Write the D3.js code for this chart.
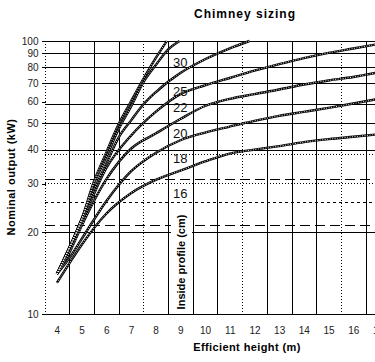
<!DOCTYPE html>
<html>
<head>
<meta charset="utf-8">
<script src="https://cdn.jsdelivr.net/npm/d3@7"></script>
<style>
  body { margin: 0; background: #fff; }
  svg { display: block; font-family: "Liberation Sans", Arial, sans-serif; }
</style>
</head>
<body>
<svg width="375" height="362"></svg>
<script>
// axis ticks
const heightTicks = [4, 5, 6, 7, 8, 9, 10, 11, 12, 13, 14, 15, 16, 17];
const kwTicks = [10, 20, 30, 40, 50, 60, 70, 80, 90, 100];

// grid lines
const solidKw = [100, 90, 80, 70, 59, 50, 40, 20, 10];
const dottedKw = [38.5, 30.1];
const dashedKw = [31.2, 21.2];
const shortDashKw = [25.8];
const solidH = [4.5, 5.5, 6.5, 8.5, 9.5, 10.5, 12.5, 13.5, 14.5, 16.5, 17.5];
const dottedH = [3.5, 7.5, 11.5, 15.5];

// curves: [efficient height (m), nominal output (kW)]
const lineA = [[4, 14], [4.5, 17.5], [5, 22.2], [5.5, 30.5], [6, 39], [6.5, 49.5], [7, 60], [7.5, 72.5], [8, 86.5], [8.45, 100]];
const lineB = [[4, 14], [4.5, 17.5], [5, 22], [5.5, 30], [6, 37.5], [6.5, 47.5], [7, 57.5], [7.5, 70.5], [8, 81.5], [8.5, 93], [8.97, 100]];
const line30 = [[4, 14], [4.5, 17.3], [5, 22.3], [5.5, 28.5], [6, 35.5], [6.5, 44.3], [7, 51.1], [7.5, 58.5], [8, 64.9], [9, 76.3], [10, 85.7], [11, 94], [11.8, 100]];
const line25 = [[4, 14], [5, 21.6], [6, 34.2], [7, 45], [8, 55], [9, 63.9], [10, 68.8], [11, 73.2], [12, 77.9], [13, 82.3], [14, 86.6], [15, 90.5], [16, 93.9], [17, 97.4]];
const line22 = [[4, 14], [4.5, 16.7], [5, 21], [6, 31.1], [7, 40.3], [8, 45.8], [9, 51.8], [10, 57.8], [11, 61.4], [12, 63.9], [13, 66.4], [14, 69.3], [15, 71.7], [16, 73.8], [17, 76.7]];
const line20 = [[4, 14], [4.5, 16], [5, 18.8], [6, 25.9], [7, 33.3], [8, 38.9], [9, 43.3], [10, 46.2], [11, 48.6], [12, 51], [13, 53.2], [14, 55], [15, 56.9], [16, 59], [17, 61.3]];
const line18 = [[4, 13], [4.5, 15.3], [5, 17.9], [6, 23.3], [7, 27.7], [8, 31], [9, 33.5], [10, 36.2], [11, 38.7], [12, 40], [13, 41.2], [14, 42.6], [15, 43.7], [16, 44.6], [17, 45.5]];

// profile labels placed at 9 m
const profileLabels = ["30", "25", "22", "20", "18", "16"];
const profileLabelKw = [83.8, 65.6, 57.3, 46.0, 37.3, 27.7];

const svg = d3.select("svg");

const x = d3.scaleLinear().domain([3.5, 17.5]).range([44.5, 390.3]);
const y = d3.scaleLog().domain([10, 100]).range([314, 41]);
const px = v => Math.round(v) + 0.5;

const grid = svg.append("g").attr("shape-rendering", "crispEdges").attr("stroke", "#000");

// horizontal lines
function hLines(vals, dash) {
  grid.selectAll(null).data(vals).enter().append("line")
    .attr("x1", x(3.5)).attr("x2", x(17.5))
    .attr("y1", d => px(y(d))).attr("y2", d => px(y(d)))
    .attr("stroke-dasharray", dash);
}
hLines(solidKw, null);
hLines(dottedKw, "1,2");
hLines(dashedKw, "10,5");
hLines(shortDashKw, "3,3");

// vertical lines
function vLines(vals, dash) {
  grid.selectAll(null).data(vals).enter().append("line")
    .attr("x1", d => px(x(d))).attr("x2", d => px(x(d)))
    .attr("y1", y(100)).attr("y2", y(10))
    .attr("stroke-dasharray", dash);
}
vLines(solidH, null);
vLines(dottedH, "1,2");

// y axis ticks and labels
const yAxis = svg.append("g")
  .attr("transform", "translate(" + px(x(3.5)) + ",0)")
  .call(d3.axisLeft(y).tickValues(kwTicks).tickFormat(d3.format("d")).tickSize(4).tickPadding(3));
yAxis.select(".domain").remove();
yAxis.selectAll("text").attr("font-size", 10).attr("fill", "#222").attr("font-family", "Liberation Sans, Arial, sans-serif");
yAxis.selectAll("line").attr("shape-rendering", "crispEdges");

// x labels
const xAxis = svg.append("g")
  .attr("transform", "translate(0," + 314 + ")")
  .call(d3.axisBottom(x).tickValues(heightTicks).tickFormat(d3.format("d")).tickSize(0).tickPadding(13));
xAxis.select(".domain").remove();
xAxis.selectAll("text").attr("font-size", 10).attr("fill", "#222").attr("font-family", "Liberation Sans, Arial, sans-serif");

// curves: dark chain with light dots inside
const line = d3.line().x(d => x(d[0])).y(d => y(d[1])).curve(d3.curveMonotoneX);
const curves = [lineA, lineB, line30, line25, line22, line20, line18];
const cg = svg.append("g").attr("fill", "none");
cg.selectAll(".outer").data(curves).enter().append("path")
  .attr("d", line).attr("stroke", "#000").attr("stroke-width", 2.4);
cg.selectAll(".inner").data(curves).enter().append("path")
  .attr("d", line).attr("stroke", "#fff").attr("stroke-width", 0.9).attr("stroke-dasharray", "1,1.5");

// profile numbers
svg.append("g").selectAll("text").data(profileLabels).enter().append("text")
  .attr("x", x(9)).attr("y", (d, i) => y(profileLabelKw[i]) + 5)
  .attr("text-anchor", "middle").attr("font-size", 13).attr("fill", "#111")
  .text(d => d);

// inside profile label
svg.append("rect").attr("x", 171).attr("y", 205).attr("width", 21).attr("height", 108).attr("fill", "#fff");
svg.append("text")
  .attr("transform", "translate(" + 185 + "," + 262 + ") rotate(-90)")
  .attr("text-anchor", "middle").attr("font-size", 11).attr("font-weight", "bold")
  .text("Inside profile (cm)");

// titles
svg.append("text").attr("x", 245).attr("y", 18).attr("text-anchor", "middle")
  .attr("font-size", 12).attr("font-weight", "bold").attr("letter-spacing", 1)
  .text("Chimney sizing");
svg.append("text").attr("x", 247).attr("y", 351).attr("text-anchor", "middle")
  .attr("font-size", 11).attr("font-weight", "bold").attr("letter-spacing", 0.4)
  .text("Efficient height (m)");
svg.append("text")
  .attr("transform", "translate(" + 15 + "," + 177 + ") rotate(-90)")
  .attr("text-anchor", "middle").attr("font-size", 11).attr("font-weight", "bold").attr("letter-spacing", 0.5)
  .text("Nominal output (kW)");
</script>
</body>
</html>
